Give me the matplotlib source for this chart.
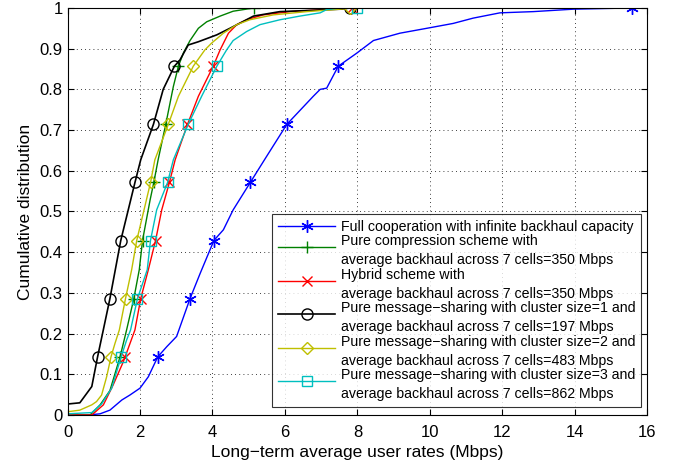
import matplotlib
matplotlib.use("Agg")
import matplotlib.pyplot as plt
from matplotlib.lines import Line2D
from matplotlib.legend_handler import HandlerLine2D
from matplotlib.transforms import Affine2D
import numpy as np

plt.rcParams['font.family'] = ['Liberation Sans', 'DejaVu Sans']

# Marker levels (cumulative probability)
mk_levels = [1/7, 2/7, 3/7, 4/7, 5/7, 6/7, 1.0]

labels = [
    "Full cooperation with infinite backhaul capacity",
    "Pure compression scheme with\naverage backhaul across 7 cells=350 Mbps",
    "Hybrid scheme with\naverage backhaul across 7 cells=350 Mbps",
    "Pure message\u2212sharing with cluster size=1 and\naverage backhaul across 7 cells=197 Mbps",
    "Pure message\u2212sharing with cluster size=2 and\naverage backhaul across 7 cells=483 Mbps",
    "Pure message\u2212sharing with cluster size=3 and\naverage backhaul across 7 cells=862 Mbps",
]

blue_x = [0, 0.57, 0.9, 1.17, 1.5, 1.72, 2.0, 2.23, 2.49, 2.74, 3.01, 3.38, 3.66, 4.04, 4.30, 4.57,
          5.04, 5.49, 6.05, 6.78, 6.97, 7.15, 7.47, 7.98, 8.44, 9.17, 9.91, 10.64, 11.19, 11.93,
          12.85, 13.95, 15.56]
blue_y = [0, 0, 0.003, 0.012, 0.037, 0.049, 0.066, 0.094, 0.143, 0.168, 0.193, 0.286, 0.348, 0.429,
          0.455, 0.504, 0.571, 0.635, 0.714, 0.783, 0.80, 0.803, 0.857, 0.889, 0.92, 0.938, 0.95,
          0.962, 0.975, 0.988, 0.991, 0.997, 1.0]
blue_mk = [2.49, 3.38, 4.04, 5.04, 6.05, 7.47, 15.56]

green_x = [0, 0.62, 0.9, 1.17, 1.45, 1.63, 1.83, 1.98, 2.07, 2.28, 2.38, 2.5, 2.71, 2.92, 3.06,
           3.2, 3.38, 3.61, 3.84, 4.21, 4.57, 5.14]
green_y = [0, 0, 0.025, 0.06, 0.143, 0.209, 0.286, 0.357, 0.429, 0.529, 0.571, 0.627, 0.714, 0.807,
           0.857, 0.89, 0.92, 0.95, 0.966, 0.98, 0.992, 1.0]
green_mk = [1.45, 1.83, 2.07, 2.38, 2.71, 3.06, 5.14]

red_x = [0, 0.67, 0.99, 1.26, 1.54, 1.59, 1.86, 2.02, 2.23, 2.43, 2.6, 2.81, 2.97, 3.31, 3.61,
         4.02, 4.21, 4.44, 4.67, 4.94, 5.40, 6.14, 7.06, 7.84]
red_y = [0, 0, 0.025, 0.074, 0.131, 0.143, 0.209, 0.286, 0.357, 0.429, 0.504, 0.571, 0.627, 0.714,
         0.783, 0.857, 0.897, 0.938, 0.959, 0.971, 0.983, 0.991, 0.996, 1.0]
red_mk = [1.59, 2.02, 2.43, 2.81, 3.31, 4.02, 7.84]

black_x = [0, 0, 0.34, 0.67, 0.83, 0.99, 1.17, 1.47, 1.86, 2.02, 2.37, 2.64, 2.95, 3.10, 3.33,
           3.61, 4.12, 4.48, 4.85, 5.13, 5.86, 7.52, 7.8]
black_y = [0, 0.027, 0.03, 0.07, 0.143, 0.21, 0.286, 0.429, 0.571, 0.627, 0.714, 0.80, 0.857,
           0.872, 0.909, 0.917, 0.934, 0.95, 0.967, 0.98, 0.991, 0.997, 1.0]
black_mk = [0.83, 1.17, 1.47, 1.86, 2.37, 2.95, 7.8]

yellow_x = [0, 0, 0.34, 0.67, 0.8, 0.94, 1.08, 1.20, 1.31, 1.43, 1.60, 1.77, 1.91, 2.09, 2.29,
            2.41, 2.78, 3.06, 3.47, 3.79, 3.98, 4.30, 4.67, 5.03, 5.68, 6.6, 7.52, 7.8]
yellow_y = [0, 0.008, 0.012, 0.025, 0.033, 0.049, 0.094, 0.143, 0.176, 0.209, 0.286, 0.357, 0.429,
            0.496, 0.571, 0.627, 0.714, 0.783, 0.857, 0.897, 0.914, 0.938, 0.959, 0.971, 0.983,
            0.991, 0.997, 1.0]
yellow_mk = [1.20, 1.60, 1.91, 2.29, 2.78, 3.47, 7.8]

cyan_x = [0, 0, 0.67, 0.94, 1.22, 1.48, 1.63, 1.74, 1.93, 2.2, 2.29, 2.46, 2.76, 2.92, 3.33, 3.70,
          4.12, 4.39, 4.57, 4.94, 5.31, 5.86, 6.41, 6.97, 7.15, 7.52, 7.98]
cyan_y = [0, 0.003, 0.006, 0.027, 0.066, 0.143, 0.184, 0.209, 0.286, 0.357, 0.429, 0.504, 0.571,
          0.627, 0.714, 0.783, 0.857, 0.897, 0.92, 0.942, 0.959, 0.971, 0.98, 0.988, 0.996, 1.0, 1.0]
cyan_mk = [1.48, 1.93, 2.29, 2.76, 3.33, 4.12, 7.98]

x_ticks = [0, 2, 4, 6, 8, 10, 12, 14, 16]
y_ticks = [0, 0.1, 0.2, 0.3, 0.4, 0.5, 0.6, 0.7, 0.8, 0.9, 1]
y_ticklabels = ["0", "0.1", "0.2", "0.3", "0.4", "0.5", "0.6", "0.7", "0.8", "0.9", "1"]

asterisk = (6, 2, 0)
series = [
    (blue_x, blue_y, blue_mk, (0, 0, 1), asterisk, 9, 1.0, 'full'),
    (green_x, green_y, green_mk, (0, 0.5, 0), '+', 9, 1.0, 'full'),
    (red_x, red_y, red_mk, (1, 0, 0), 'x', 7, 1.0, 'full'),
    (black_x, black_y, black_mk, (0, 0, 0), 'o', 8, 1.2, 'none'),
    (yellow_x, yellow_y, yellow_mk, (0.75, 0.75, 0), 'D', 6.5, 1.0, 'none'),
    (cyan_x, cyan_y, cyan_mk, (0, 0.75, 0.75), 's', 6.5, 1.0, 'none'),
]


class ShiftedHandler(HandlerLine2D):
    def __init__(self, dy=0.0, **kw):
        super().__init__(**kw)
        self.dy = dy

    def create_artists(self, legend, orig_handle, xdescent, ydescent, width, height,
                       fontsize, trans):
        arts = super().create_artists(legend, orig_handle, xdescent, ydescent, width,
                                      height, fontsize, trans)
        for a in arts:
            a.set_transform(trans + Affine2D().translate(0, self.dy))
        return arts


fig = plt.figure(figsize=(6.73, 4.68), dpi=100)
ax = fig.add_axes([0.1003, 0.1132, 0.8618, 0.8698])

handles = []
for (xs, ys, mks, col, mk, ms, lw, fill), lab in zip(series, labels):
    ax.plot(xs, ys, color=col, lw=lw)
    ax.plot(mks, mk_levels, linestyle='none', marker=mk, markersize=ms, color=col,
            markerfacecolor='none' if fill == 'none' else col, markeredgewidth=1.0)
    handles.append(Line2D([], [], color=col, lw=lw, marker=mk, markersize=ms,
                          markerfacecolor='none' if fill == 'none' else col,
                          markeredgewidth=1.0, label=lab))

ax.set_xlim(0, 16)
ax.set_ylim(0, 1)
ax.set_xticks(x_ticks)
ax.set_xticklabels([str(t) for t in x_ticks])
ax.set_yticks(y_ticks)
ax.set_yticklabels(y_ticklabels)
ax.tick_params(direction='in', top=True, right=True, labelsize=12, length=4)
ax.tick_params(axis='x', pad=7)
ax.tick_params(axis='y', pad=3.5)
ax.grid(True, color='black', linestyle=(0, (1, 4)), linewidth=0.6)
for s in ax.spines.values():
    s.set_linewidth(0.8)

ax.set_xlabel("Long\u2212term average user rates (Mbps)", fontsize=12.5, labelpad=4)
ax.set_ylabel("Cumulative distribution", fontsize=12.5, labelpad=5)

hmap = {h: ShiftedHandler(dy=(0.0 if i == 0 else 4.0)) for i, h in enumerate(handles)}
leg = ax.legend(handles=handles, handler_map=hmap, loc='lower right',
                bbox_to_anchor=(0.9895, 0.0195),
                fontsize=10.2, frameon=True, fancybox=False, edgecolor='black',
                labelspacing=0.04, handlelength=4.05, handletextpad=0.4, borderpad=0.4,
                borderaxespad=0.0)
for t in leg.get_texts():
    t.set_linespacing(1.45)
leg.get_frame().set_linewidth(0.8)

fig.savefig("out.png", dpi=100)
